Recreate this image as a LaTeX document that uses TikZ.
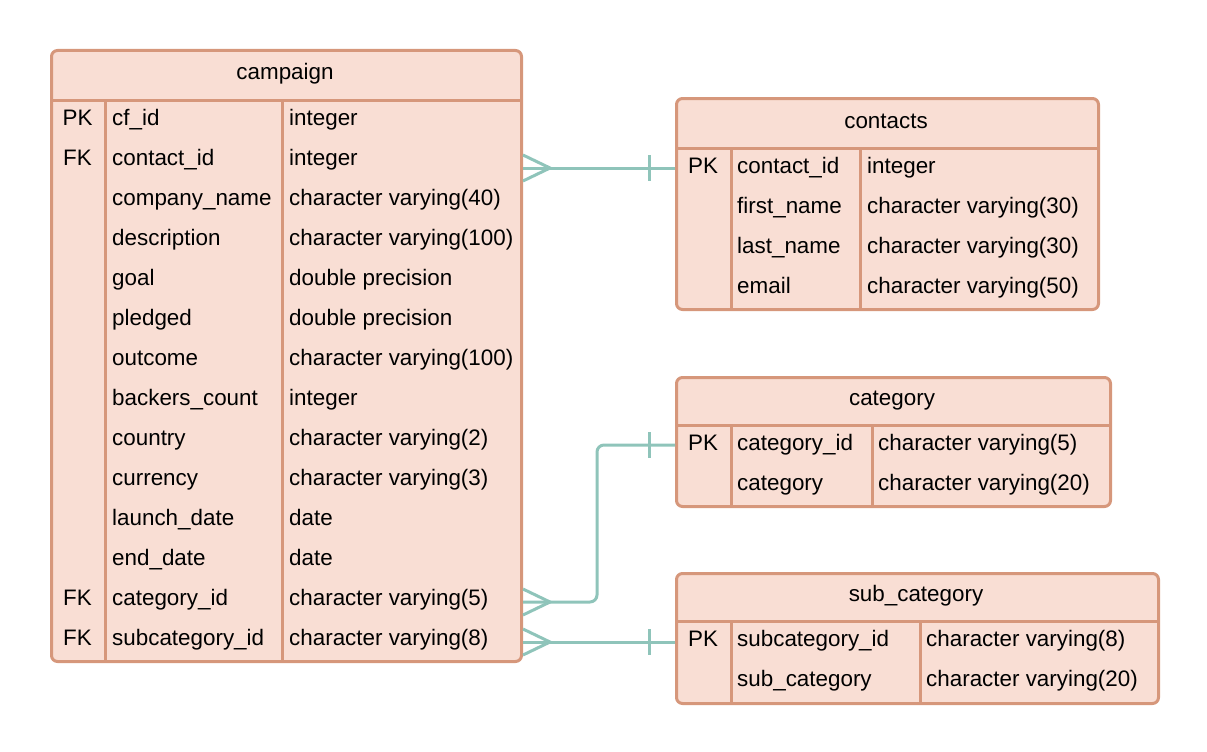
\documentclass[tikz,border=0pt]{standalone}
\usepackage{fontspec}
\setmainfont{Liberation Sans}
\definecolor{tfill}{HTML}{F9DED4}
\definecolor{tline}{HTML}{D6977B}
\definecolor{conn}{HTML}{8FC4BA}
\begin{document}
\begin{tikzpicture}[x=1pt,y=-1pt,
  tbl/.style={draw=tline, fill=tfill, line width=3pt, rounded corners=6pt, inner sep=0pt, anchor=north west},
  sepline/.style={draw=tline, line width=3pt},
  txt/.style={font=\fontsize{22.4}{26}\selectfont, inner sep=0pt, anchor=base west},
  ttl/.style={font=\fontsize{22.4}{26}\selectfont, inner sep=0pt, anchor=base},
  rel/.style={draw=conn, line width=3pt}]
\useasboundingbox (0,0) rectangle (1207,752);

% ---------- campaign ----------
\node[tbl, minimum width=470pt, minimum height=611pt] (campaign) at (50,49) {};
\draw[sepline] (campaign.west |- 0,100) -- (campaign.east |- 0,100);
\draw[sepline] (105,100) -- (105,660);
\draw[sepline] (282,100) -- (282,660);
\node[ttl] (campaignT) at (285,79) {campaign};
\foreach \n/\t [count=\i from 0] in {
  cf\_id/integer, contact\_id/integer, company\_name/character varying(40),
  description/character varying(100), goal/double precision, pledged/double precision,
  outcome/character varying(100), backers\_count/integer, country/character varying(2),
  currency/character varying(3), launch\_date/date, end\_date/date,
  category\_id/character varying(5), subcategory\_id/character varying(8)}{
  \node[txt] (cn\i) at (112,125+40*\i) {\n};
  \node[txt] (ct\i) at (289,125+40*\i) {\t};
}
\node[ttl] (ck0) at (77.5,125) {PK};
\node[ttl] (ck1) at (77.5,165) {FK};
\node[ttl] (ck12) at (77.5,605) {FK};
\node[ttl] (ck13) at (77.5,645) {FK};

% ---------- contacts ----------
\node[tbl, minimum width=422pt, minimum height=211pt] (contacts) at (675,97) {};
\draw[sepline] (contacts.west |- 0,148) -- (contacts.east |- 0,148);
\draw[sepline] (731,148) -- (731,308);
\draw[sepline] (860,148) -- (860,308);
\node[ttl] (contactsT) at (886,128) {contacts};
\foreach \n/\t [count=\i from 0] in {
  contact\_id/integer, first\_name/character varying(30),
  last\_name/character varying(30), email/character varying(50)}{
  \node[txt] (on\i) at (737,173+40*\i) {\n};
  \node[txt] (ot\i) at (867,173+40*\i) {\t};
}
\node[ttl] (ok0) at (703,173) {PK};

% ---------- category ----------
\node[tbl, minimum width=434pt, minimum height=129pt] (category) at (675,376) {};
\draw[sepline] (category.west |- 0,425) -- (category.east |- 0,425);
\draw[sepline] (731,425) -- (731,505);
\draw[sepline] (872,425) -- (872,505);
\node[ttl] (categoryT) at (892,405) {category};
\foreach \n/\t [count=\i from 0] in {
  category\_id/character varying(5), category/character varying(20)}{
  \node[txt] (an\i) at (737,450+40*\i) {\n};
  \node[txt] (at\i) at (878,450+40*\i) {\t};
}
\node[ttl] (ak0) at (703,450) {PK};

% ---------- sub_category ----------
\node[tbl, minimum width=482pt, minimum height=130pt] (subcat) at (675,572) {};
\draw[sepline] (subcat.west |- 0,621) -- (subcat.east |- 0,621);
\draw[sepline] (731,621) -- (731,702);
\draw[sepline] (920,621) -- (920,702);
\node[ttl] (subcatT) at (916,601) {sub\_category};
\foreach \n/\t [count=\i from 0] in {
  subcategory\_id/character varying(8), sub\_category/character varying(20)}{
  \node[txt] (sn\i) at (737,646+40*\i) {\n};
  \node[txt] (st\i) at (926,646+40*\i) {\t};
}
\node[ttl] (sk0) at (703,646) {PK};

% ---------- relations ----------
\coordinate (r1) at (0,168);
\coordinate (r2) at (0,602);
\coordinate (r3) at (0,445);
\coordinate (r4) at (0,642);
% campaign -> contacts
\draw[rel] (campaign.east |- r1) -- (contacts.west |- r1);
\draw[rel] (campaign.east |- r1) ++(0,-13) -- ++(27,13) -- ++(-27,13);
\draw[rel] (contacts.west |- r1) ++(-26,-13) -- ++(0,26);
% campaign -> category
\draw[rel, rounded corners=7pt] (campaign.east |- r2) -- (597,602) -- (597,445) -- (category.west |- r3);
\draw[rel] (campaign.east |- r2) ++(0,-13) -- ++(27,13) -- ++(-27,13);
\draw[rel] (category.west |- r3) ++(-26,-13) -- ++(0,26);
% campaign -> sub_category
\draw[rel] (campaign.east |- r4) -- (subcat.west |- r4);
\draw[rel] (campaign.east |- r4) ++(0,-13) -- ++(27,13) -- ++(-27,13);
\draw[rel] (subcat.west |- r4) ++(-26,-13) -- ++(0,26);
\end{tikzpicture}
\end{document}
